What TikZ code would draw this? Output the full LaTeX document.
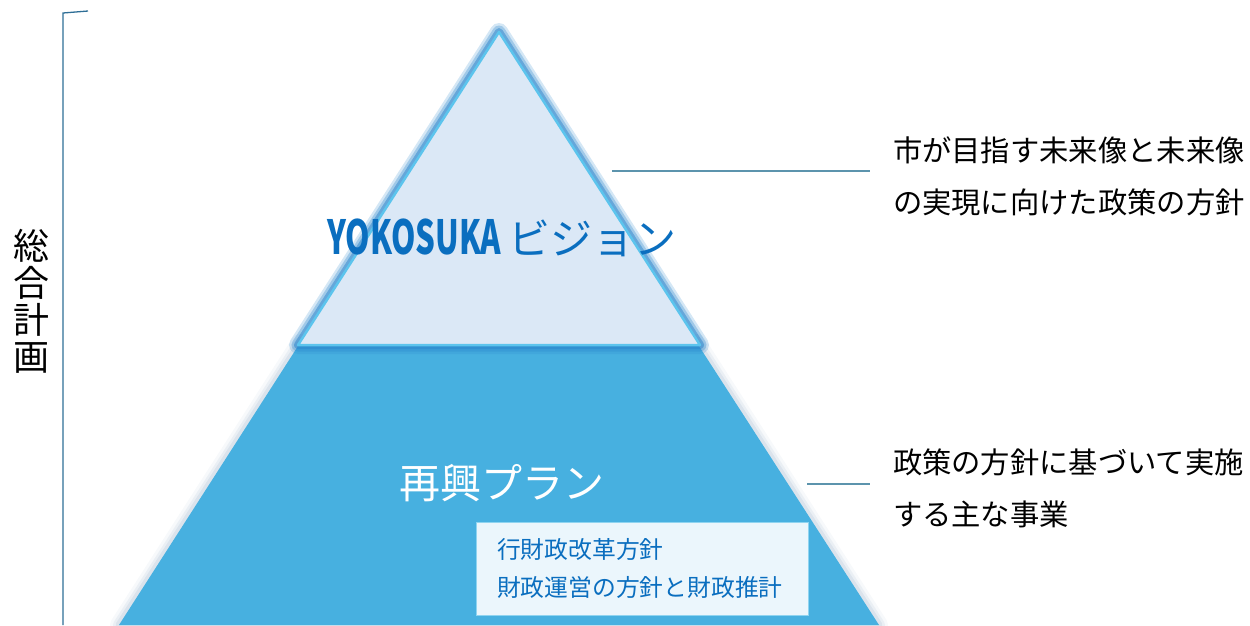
\documentclass[tikz,border=0pt]{standalone}
\usepackage{fontspec}
\newfontfamily\jp{Noto Sans CJK JP}
\usetikzlibrary{calc}
\definecolor{visionfill}{rgb}{0.86, 0.91, 0.965}
\definecolor{visionedge}{rgb}{0.36, 0.77, 0.93}
\definecolor{visionglow}{rgb}{0.16, 0.52, 0.80}
\definecolor{planfill}{rgb}{0.28, 0.69, 0.88}
\definecolor{planglow}{rgb}{0.58, 0.68, 0.78}
\definecolor{boxfill}{rgb}{0.92, 0.965, 0.99}
\definecolor{boxedge}{rgb}{0.56, 0.83, 0.94}
\definecolor{textblue}{rgb}{0.04, 0.43, 0.75}
\definecolor{leadcolor}{rgb}{0.36, 0.58, 0.68}
\definecolor{bracecolor}{rgb}{0.18, 0.43, 0.59}

\begin{document}
\begin{tikzpicture}[x=1pt,y=-1pt,
    leader/.style={draw=leadcolor,line width=1.3pt},
    notetext/.style={anchor=west,align=left,inner sep=0pt,outer xsep=23pt,
      font=\jp\fontsize{29.3}{52}\selectfont}]
\useasboundingbox (0,0) rectangle (1250,625);

\foreach \w/\o in {18/0.08,12/0.12,7/0.18}
  \draw[planglow,line width=\w pt,opacity=\o,line join=round] (300,343) -- (697,343) -- (879,625) -- (119,625) -- cycle;
\fill[planfill] (300,343) -- (697,343) -- (879,625) -- (119,625) -- cycle;

\foreach \w/\o in {18/0.2,13/0.3,8/0.5}
  \draw[visionglow,line width=\w pt,opacity=\o,line join=round] (499,32) -- (700,345) -- (298,345) -- cycle;
\draw[visionedge,fill=visionfill,line width=2.5pt,line join=round] (499,32) -- (700,345) -- (298,345) -- cycle;

\node[text=textblue,font=\jp\fontsize{42}{42}\selectfont] (vision) at (502,238)
  {\scalebox{0.74}[1.12]{\bfseries YOKOSUKA}\,ビジョン};
\node[text=white,font=\jp\fontsize{41}{41}\selectfont] (plan) at (502,483) {再興プラン};

\node[draw=boxedge,fill=boxfill,line width=0.8pt,minimum width=332pt,minimum height=93pt,
  text width=290pt,inner xsep=21pt,align=left,text=textblue,
  font=\jp\fontsize{23.8}{38}\selectfont] (policy) at (642,568.5)
  {行財政改革方針\\財政運営の方針と財政推計};

\node[notetext] (visionnote) at (870,176) {市が目指す未来像と未来像\\の実現に向けた政策の方針};
\node[notetext] (plannote) at (870,488) {政策の方針に基づいて実施\\する主な事業};
\coordinate (visionpt) at (612,171);
\coordinate (planpt) at (807,484);
\draw[leader] (visionpt) -- (visionpt -| visionnote.west);
\draw[leader] (planpt) -- (planpt -| plannote.west);

\coordinate (bracetop) at (88,11);
\coordinate (bracebot) at (63,625);
\draw[bracecolor,line width=1.3pt] (bracetop) -- (63,13) -- (bracebot);
\node[align=center,inner sep=0pt,font=\jp\fontsize{36}{37}\selectfont] (overall) at (31,301)
  {総\\合\\計\\画};
\end{tikzpicture}
\end{document}
